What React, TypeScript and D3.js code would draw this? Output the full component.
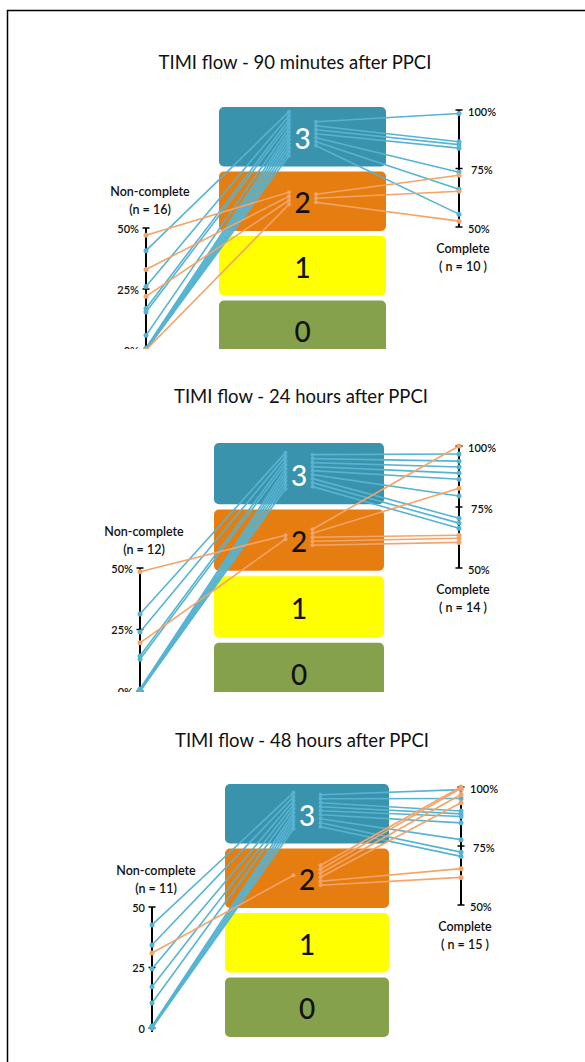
import React from 'react';
import * as d3 from 'd3';

// ---------- data ----------
const GRADES = ['3', '2', '1', '0'];

const titles = [
  'TIMI flow - 90 minutes after PPCI',
  'TIMI flow - 24 hours after PPCI',
  'TIMI flow - 48 hours after PPCI',
];
const nonCompleteN = [16, 12, 11];
const completeN = [10, 14, 15];

const leftTicks = [0, 25, 50];
const rightTicks = [50, 75, 100];
const leftTickPct = [true, true, false];

// Non-complete (left axis) values, by TIMI grade reached
const p1LeftT3 = [40.7, 26, 17, 15.6, 6, 0.8, 0.5, 0.3, 0, 0, 0, 0];
const p1LeftT2 = [47, 33, 22, 0];
const p2LeftT3 = [31.3, 24, 14.2, 12.9, 0.8, 0.5, 0.3, 0, 0, 0];
const p2LeftT2 = [48.5, 19.6];
const p3LeftT3 = [42.6, 34.3, 24.5, 17, 10.3, 0.8, 0.5, 0.3, 0, 0];
const p3LeftT2 = [31];

// Complete (right axis) values, by TIMI grade reached
const p1RightT3 = [98.5, 86.4, 85.2, 83.7, 73.4, 66.1, 55.5];
const p1RightT2 = [72.1, 65.3, 52.5];
const p2RightT3 = [96.7, 93.8, 91.4, 88.9, 86.4, 79.5, 70.4, 68.4, 66.3];
const p2RightT2 = [100, 82.7, 63.4, 62.2, 60.5];
const p3RightT3 = [98.9, 95.1, 89.8, 88.6, 87.5, 84.8, 77.7, 72.4, 70.6];
const p3RightT2 = [100, 99.4, 96.8, 93.3, 65.4, 61.7];

const leftT3 = [p1LeftT3, p2LeftT3, p3LeftT3];
const leftT2 = [p1LeftT2, p2LeftT2, p3LeftT2];
const rightT3 = [p1RightT3, p2RightT3, p3RightT3];
const rightT2 = [p1RightT2, p2RightT2, p3RightT2];

// ---------- layout / style ----------
const layouts = [
  { titleX: 295, titleY: 62, boxX0: 219, boxX1: 386, boxTop: 107, boxBottom: 360, axL: 146, l0: 350, l50: 228, axR: 459, r50: 227, r100: 110, clipBottom: 349 },
  { titleX: 301, titleY: 396, boxX0: 214, boxX1: 384, boxTop: 443, boxBottom: 704, axL: 140, l0: 691, l50: 568, axR: 459, r50: 568, r100: 446, clipBottom: 692 },
  { titleX: 302, titleY: 740, boxX0: 225, boxX1: 389, boxTop: 784, boxBottom: 1037, axL: 152, l0: 1028, l50: 907, axR: 461, r50: 905, r100: 787, clipBottom: 1062 },
];

const BOX_FILL: Record<string, string> = { '3': '#3A93AC', '2': '#E57D10', '1': '#FFFF00', '0': '#85A14C' };
const NUM_FILL: Record<string, string> = { '3': '#FFFFFF', '2': '#111', '1': '#111', '0': '#111' };
const LINE_BLUE = '#56B4D2';
const LINE_ORANGE = '#F3A46A';
const FONT = 'Lato, "Open Sans", sans-serif';

function Panel({ idx }: { idx: number }) {
  const L = layouts[idx];
  const band = d3.scaleBand<string>().domain(GRADES).range([L.boxTop, L.boxBottom]).paddingInner(0.08);
  const yL = d3.scaleLinear().domain([0, 50]).range([L.l0, L.l50]);
  const yR = d3.scaleLinear().domain([50, 100]).range([L.r50, L.r100]);
  const cx = (L.boxX0 + L.boxX1) / 2;
  const colL = cx - 13.5;
  const colR = cx + 13.5;

  const column = (grade: string, n: number) => {
    const c = (band(grade) as number) + band.bandwidth() / 2 - 3;
    return d3.range(n).map((i) => c + (i - (n - 1) / 2) * 4);
  };

  const sortDesc = (a: number[]) => [...a].sort((x, y) => y - x);
  const lT3 = sortDesc(leftT3[idx]);
  const lT2 = sortDesc(leftT2[idx]);
  const rT3 = sortDesc(rightT3[idx]);
  const rT2 = sortDesc(rightT2[idx]);

  const groups = [
    { side: 'L', vals: lT3, grade: '3', color: LINE_BLUE },
    { side: 'L', vals: lT2, grade: '2', color: LINE_ORANGE },
    { side: 'R', vals: rT3, grade: '3', color: LINE_BLUE },
    { side: 'R', vals: rT2, grade: '2', color: LINE_ORANGE },
  ];

  const clipId = `clip${idx}`;
  const fmtL = (v: number) => (leftTickPct[idx] ? `${v}%` : `${v}`);

  return (
    <g>
      <defs>
        <clipPath id={clipId}>
          <rect x={0} y={L.titleY - 40} width={585} height={L.clipBottom - (L.titleY - 40)} />
        </clipPath>
      </defs>
      <text x={L.titleX} y={L.titleY} textAnchor="middle" dominantBaseline="central" fontFamily={FONT} fontSize={18.5} fill="#111">
        {titles[idx]}
      </text>
      <g clipPath={`url(#${clipId})`}>
        {GRADES.map((g) => (
          <g key={g}>
            <rect x={L.boxX0} y={band(g)} width={L.boxX1 - L.boxX0} height={band.bandwidth()} rx={5} fill={BOX_FILL[g]} />
            <text x={cx} y={(band(g) as number) + band.bandwidth() / 2 + 1} textAnchor="middle" dominantBaseline="central" fontFamily={FONT} fontSize={28} fontWeight={500} fill={NUM_FILL[g]}>
              {g}
            </text>
          </g>
        ))}

        {/* left axis */}
        <line x1={L.axL} x2={L.axL} y1={yL(50)} y2={yL(0) + 4} stroke="#000" strokeWidth={2} />
        {leftTicks.map((t) => (
          <g key={t}>
            <line x1={L.axL - 3.5} x2={L.axL + 3.5} y1={yL(t)} y2={yL(t)} stroke="#000" strokeWidth={1.5} />
            <text x={L.axL - 7} y={yL(t)} textAnchor="end" dominantBaseline="central" fontFamily={FONT} fontSize={11} fontWeight={600} fill="#111">
              {fmtL(t)}
            </text>
          </g>
        ))}
        <text x={L.axL + 4} y={yL(50) - 37} textAnchor="middle" dominantBaseline="central" fontFamily={FONT} fontSize={12.5} fontWeight={600} fill="#111">Non-complete</text>
        <text x={L.axL + 4} y={yL(50) - 19} textAnchor="middle" dominantBaseline="central" fontFamily={FONT} fontSize={12.5} fontWeight={600} fill="#111">{`(n = ${nonCompleteN[idx]})`}</text>

        {/* right axis */}
        <line x1={L.axR} x2={L.axR} y1={yR(100)} y2={yR(50)} stroke="#000" strokeWidth={2} />
        {rightTicks.map((t) => (
          <g key={t}>
            <line x1={L.axR - 3.5} x2={L.axR + 3.5} y1={yR(t)} y2={yR(t)} stroke="#000" strokeWidth={1.5} />
            <text x={L.axR + (t === 75 ? 12 : 9)} y={yR(t) + 1} dominantBaseline="central" fontFamily={FONT} fontSize={11} fontWeight={600} fill="#111">
              {`${t}%`}
            </text>
          </g>
        ))}
        <text x={L.axR + 4} y={yR(50) + 21} textAnchor="middle" dominantBaseline="central" fontFamily={FONT} fontSize={12.5} fontWeight={600} fill="#111">Complete</text>
        <text x={L.axR + 4} y={yR(50) + 39} textAnchor="middle" dominantBaseline="central" fontFamily={FONT} fontSize={12.5} fontWeight={600} fill="#111">{`( n = ${completeN[idx]} )`}</text>

        {/* connecting lines */}
        {groups.map((gr, gi) => {
          const ys = column(gr.grade, gr.vals.length);
          const colX = gr.side === 'L' ? colL : colR;
          return (
            <g key={gi}>
              {gr.vals.length > 1 && (
                <line x1={colX} x2={colX} y1={ys[0]} y2={ys[ys.length - 1]} stroke={gr.color} strokeWidth={1.5} opacity={0.8} />
              )}
              {gr.vals.map((v, i) => {
                const ax = gr.side === 'L' ? L.axL : L.axR;
                const ay = gr.side === 'L' ? yL(v) : yR(v);
                return (
                  <g key={i}>
                    <line x1={ax} y1={ay} x2={colX} y2={ys[i]} stroke={gr.color} strokeWidth={1.6} />
                    <circle cx={ax} cy={ay} r={2.5} fill={gr.color} />
                    <circle cx={colX} cy={ys[i]} r={2} fill={gr.color} />
                  </g>
                );
              })}
            </g>
          );
        })}
      </g>
    </g>
  );
}

export default function App() {
  return (
    <svg width={585} height={1062} style={{ position: 'absolute', left: 0, top: 0, display: 'block', background: '#fff' }}>
      <rect x={0} y={0} width={585} height={1062} fill="#fff" />
      <path d="M7.5,1062 V10.5 H585" fill="none" stroke="#000" strokeWidth={1.5} />
      {[0, 1, 2].map((i) => (
        <Panel key={i} idx={i} />
      ))}
    </svg>
  );
}
